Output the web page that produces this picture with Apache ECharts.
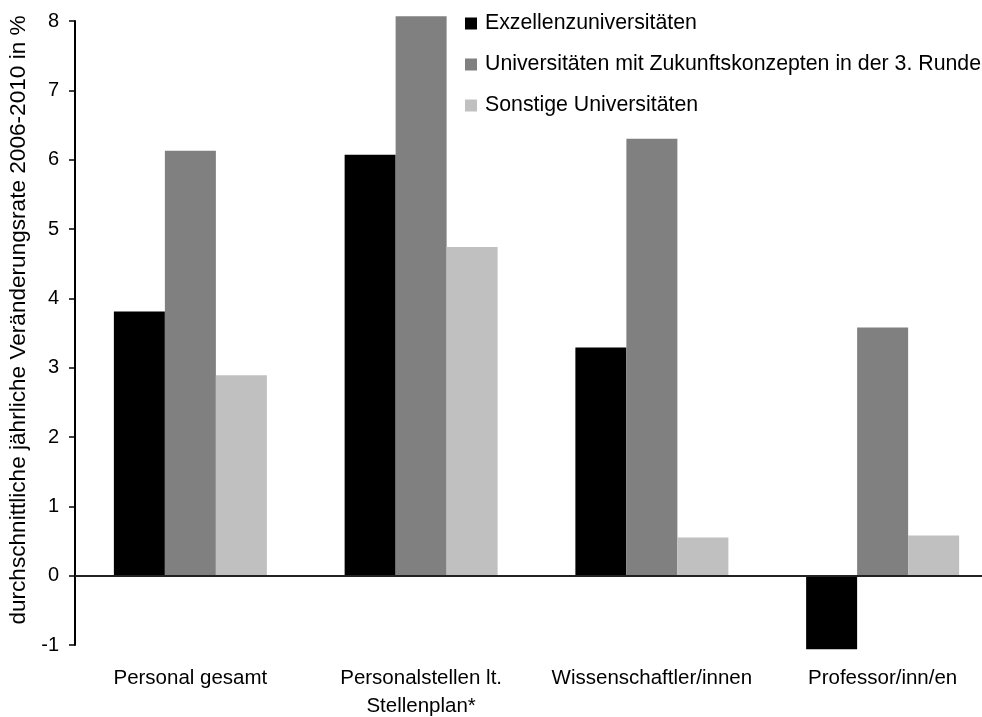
<!DOCTYPE html>
<html>
<head>
<meta charset="utf-8">
<script src="https://cdn.jsdelivr.net/npm/echarts@6/dist/echarts.min.js"></script>
<style>html,body{margin:0;padding:0;background:#fff}#c{width:982px;height:717px}</style>
</head>
<body>
<div id="c"></div>
<script>
const categories = ['Personal gesamt', 'Personalstellen lt.\nStellenplan*', 'Wissenschaftler/innen', 'Professor/inn/en'];
const seriesNames = ['Exzellenzuniversitäten', 'Universitäten mit Zukunftskonzepten in der 3. Runde', 'Sonstige Universitäten'];
const exzellenz = [3.81, 6.07, 3.29, -1.06];
const zukunft = [6.13, 8.07, 6.30, 3.58];
const sonstige = [2.89, 4.74, 0.55, 0.58];
const yTicks = [-1, 0, 1, 2, 3, 4, 5, 6, 7, 8];
const yAxisTitle = 'durchschnittliche jährliche Veränderungsrate 2006-2010 in %';

const colors = ['#000000', '#808080', '#c0c0c0'];
const font = 'Liberation Sans, Arial, sans-serif';
const chart = echarts.init(document.getElementById('c'));
const values = [exzellenz, zukunft, sonstige];
chart.setOption({
  animation: false,
  textStyle: { fontFamily: font },
  grid: { left: 75, top: 21, width: 923, height: 624, containLabel: false, outerBoundsMode: 'none' },
  legend: {
    orient: 'vertical', left: 460, top: 8,
    icon: 'rect', itemWidth: 12, itemHeight: 12, itemGap: 20,
    textStyle: { fontFamily: font, fontSize: 21.3, color: '#000', lineHeight: 21, padding: [0, 0, 0, 3] },
    data: seriesNames
  },
  xAxis: {
    type: 'category', data: categories,
    axisLine: { show: false, onZero: false },
    axisTick: { show: false },
    axisLabel: { color: '#000', fontSize: 20.5, fontFamily: font, margin: 19, lineHeight: 28, interval: 0 }
  },
  yAxis: {
    type: 'value', min: yTicks[0], max: yTicks[yTicks.length - 1], interval: 1,
    name: yAxisTitle, nameLocation: 'middle', nameGap: 43, nameRotate: 90,
    nameTextStyle: { color: '#000', fontSize: 22.6, fontFamily: font, padding: [0, 0, 0, 26] },
    axisLine: { show: true, lineStyle: { color: '#000', width: 2 } },
    axisTick: { show: true, length: 6, lineStyle: { color: '#000', width: 1.5 } },
    axisLabel: { color: '#000', fontSize: 20, fontFamily: font, margin: 16 },
    splitLine: { show: false }
  },
  series: seriesNames.map((n, i) => ({
    name: n, type: 'bar', data: values[i],
    barWidth: 51, barGap: '0%', clip: false,
    itemStyle: { color: colors[i] },
    z: 2,
    markLine: i === 0 ? {
      silent: true, symbol: 'none', label: { show: false },
      lineStyle: { color: '#222', width: 2, type: 'solid' },
      data: [{ yAxis: 0 }], z: 5
    } : undefined
  }))
});
</script>
</body>
</html>
